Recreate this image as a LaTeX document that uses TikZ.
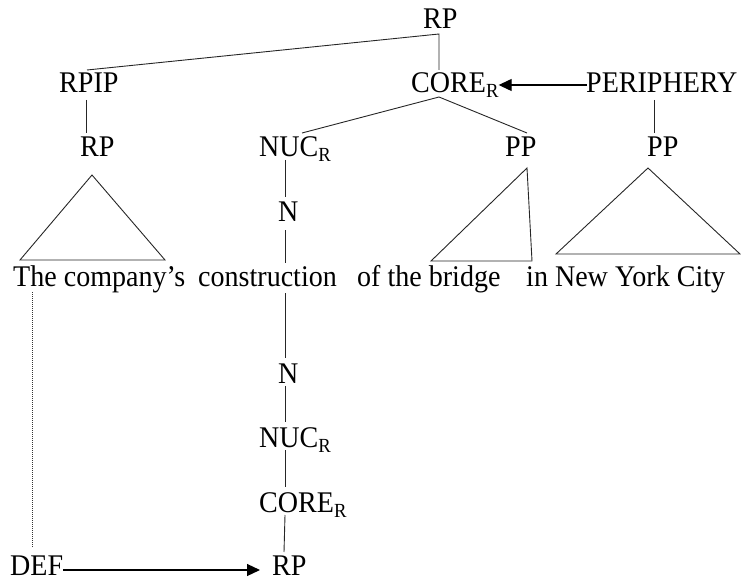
\documentclass[tikz,border=0pt]{standalone}
\usepackage{fontspec}
\setmainfont{Liberation Serif}[FakeStretch=0.935]
\usetikzlibrary{arrows.meta}
% lowered, smaller R used as a subscript on category labels
\newcommand{\subR}{\raisebox{-5pt}{\fontsize{20}{21}\selectfont R}}

\begin{document}
\begin{tikzpicture}[x=1pt,y=-1pt,
  lbl/.style={anchor=base west, inner sep=0pt, font=\fontsize{30}{34}\selectfont},
  edge/.style={draw=black!85, line width=0.9pt},
  arr/.style={draw=black, line width=1.2pt, -{Triangle[length=13pt,width=12pt]}},
  dotline/.style={draw=black!80, line width=0.7pt, dash pattern=on 1pt off 1pt},
]
\useasboundingbox (0,0) rectangle (741,580);

% tree labels
\node[lbl] (rp0)   at (423,29)  {RP};
\node[lbl] (rpip)  at (59,93)   {RPIP};
\node[lbl] (core)  at (411,93)  {CORE\subR};
\node[lbl] (peri)  at (586,93)  {PERIPHERY};
\node[lbl] (rp1)   at (80,157)  {RP};
\node[lbl] (nuc)   at (259,157) {NUC\subR};
\node[lbl] (pp1)   at (505,157) {PP};
\node[lbl] (pp2)   at (647,157) {PP};
\node[lbl] (n1)    at (278,221) {N};

% the sentence
\node[lbl] (w1) at (13,286)  {The company’s};
\node[lbl] (w2) at (198,286) {construction};
\node[lbl] (w3) at (357,286) {of the bridge};
\node[lbl] (w4) at (526,286) {in New York City};

% operator projection
\node[lbl] (n2)    at (278,383) {N};
\node[lbl] (nuc2)  at (259,447) {NUC\subR};
\node[lbl] (core2) at (259,512) {CORE\subR};
\node[lbl] (def)   at (10,575)  {DEF};
\node[lbl] (rp3)   at (272,575) {RP};

% branches of the constituent projection
\draw[edge] ([shift={(28,-23)}]rpip.base west) -- ([shift={(16,5)}]rp0.base west)
            -- ([shift={(28,-23)}]core.base west);
\draw[edge] ([shift={(43,-24)}]nuc.base west) -- ([shift={(28,4)}]core.base west)
            -- ([shift={(22,-24)}]pp1.base west);
\draw[edge] ([shift={(27.5,7)}]rpip.base west) -- ([shift={(6.5,-24)}]rp1.base west);
\draw[edge] ([shift={(68,7)}]peri.base west) -- ([shift={(7,-24)}]pp2.base west);
\draw[edge] ([shift={(26,3)}]nuc.base west) -- ([shift={(7,-24)}]n1.base west);
\draw[edge] ([shift={(7,9)}]n1.base west) -- ([shift={(87,-23)}]w2.base west);

% periphery modifies the core
\draw[arr] ([shift={(1,-8)}]peri.base west) -- ([shift={(0,-8)}]core.base east);

% triangles over the phrases
\draw[edge] (92,175) -- (20,260) -- (165,260) -- cycle;
\draw[edge] (527,168) -- (431,261) -- (532,261) -- cycle;
\draw[edge] (648,168) -- (556,254) -- (740,254) -- cycle;

% spine of the operator projection
\draw[edge] ([shift={(87,7)}]w2.base west) -- ([shift={(7,-25)}]n2.base west);
\draw[edge] ([shift={(7,3)}]n2.base west) -- ([shift={(26,-25)}]nuc2.base west);
\draw[edge] ([shift={(26,3)}]nuc2.base west) -- ([shift={(26,-25)}]core2.base west);
\draw[edge] ([shift={(26,3)}]core2.base west) -- ([shift={(12,-23)}]rp3.base west);

% definiteness operator
\draw[dotline] ([shift={(19,6)}]w1.base west) -- ([shift={(22,-28)}]def.base west);
\draw[arr] ([shift={(0,-5)}]def.base east) -- ([shift={(-12,-5)}]rp3.base west);
\end{tikzpicture}
\end{document}
